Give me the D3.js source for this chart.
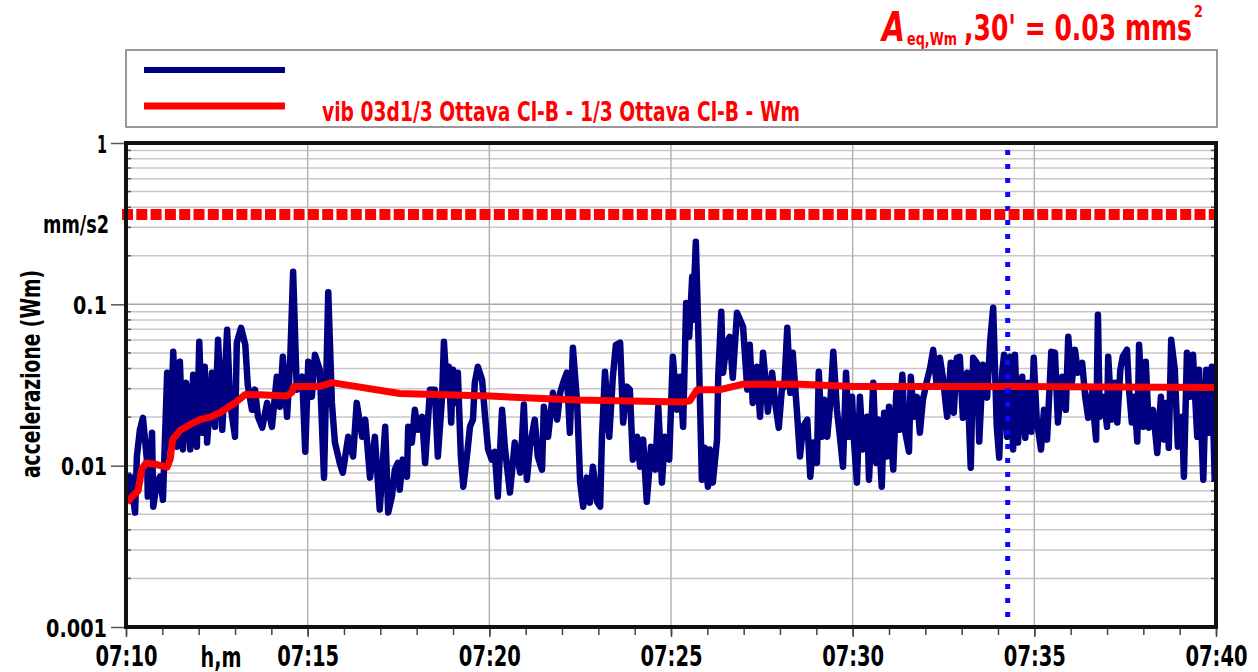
<!DOCTYPE html>
<html><head><meta charset="utf-8">
<script src="https://cdn.jsdelivr.net/npm/d3@7"></script>
<style>
html,body{margin:0;padding:0;background:#fff;}
svg{display:block;font-family:"DejaVu Sans",sans-serif;}
</style></head>
<body>
<svg id="chart" width="1258" height="672"></svg>
<script>
// ---- DATA ----
const xTickSeconds = [0, 300, 600, 900, 1200, 1500, 1800];
const xTickLabels = ["07:10", "07:15", "07:20", "07:25", "07:30", "07:35", "07:40"];
const yTickValues = [1, 0.1, 0.01, 0.001];
const yTickLabels = ["1", "0.1", "0.01", "0.001"];
const thresholdValue = 0.36;          // red dashed limit, mm/s2
const cursorSecond = 1456;            // blue dotted cursor (07:34:16)
const seriesLabel = "vib 03d1/3 Ottava Cl-B - 1/3 Ottava Cl-B - Wm";
const yAxisTitle = "accelerazione (Wm)";
const yUnit = "mm/s2";
const xUnit = "h,m";

// instantaneous weighted acceleration [seconds after 07:10, mm/s2]
const traceWm = [
[2,.00615],[7,.00855],[15,.00512],[18,.0114],[23,.0167],[28,.0198],[35,.0104],[36,.00643],[43,.0160],[45,.00557],[51,.00785],[56,.00855],[61,.00615],[68,.0377],[73,.0131],[78,.0508],[84,.0131],[89,.0440],[94,.0126],[99,.0327],[102,.0283],[106,.0126],[111,.0366],[117,.0131],[121,.0586],[126,.0160],[130,.0410],[134,.0139],[142,.0377],[147,.0174],[152,.0603],[159,.0167],[167,.0695],[172,.0245],[180,.0151],[183,.0578],[190,.0715],[197,.0561],[201,.0318],[208,.0222],[213,.0296],[218,.0201],[225,.0172],[233,.0245],[241,.0174],[249,.0356],[254,.0232],[259,.0473],[266,.0201],[271,.0434],[276,.159],[282,.0296],[291,.0356],[296,.0122],[301,.0440],[307,.0267],[312,.0487],[320,.0393],[327,.00843],[334,.119],[340,.0245],[345,.0139],[353,.0104],[358,.00905],[367,.0151],[375,.0114],[381,.0245],[390,.0151],[395,.0193],[403,.00843],[411,.0151],[419,.00534],[428,.0174],[433,.00512],[439,.00643],[444,.00945],[449,.0104],
[452,.00710],[457,.0109],[464,.00855],[466,.0174],[472,.0139],[477,.0222],[482,.0167],[489,.0201],[494,.0104],[502,.0296],[510,.0296],[515,.0114],[522,.0267],[525,.0586],[530,.0283],[533,.0410],[537,.0185],[540,.0393],[545,.0245],[548,.0377],[553,.0114],[557,.00741],[563,.0114],[568,.0174],[573,.0193],[576,.0327],[581,.0410],[588,.0341],[593,.0201],[598,.0126],[604,.0109],[609,.0122],[614,.00643],[621,.0222],[626,.0126],[634,.00681],[642,.0139],[651,.00905],[657,.0239],[662,.00819],[667,.0131],[675,.0193],[680,.0114],[687,.00945],[690,.0232],[697,.0151],[705,.0283],[712,.0193],[717,.0283],[722,.0327],[728,.0377],[733,.0160],[738,.0538],[745,.0245],[750,.00785],[755,.00557],[761,.00843],[766,.00590],[771,.00986],[778,.00598],[783,.00557],[786,.0151],[791,.0382],[798,.0151],[804,.0356],[809,.0561],[816,.0578],[821,.0185],[827,.0309],[832,.0296],[837,.0109],[844,.0151],[849,.00986],[854,.0145],[860,.00598],[867,.0131],[874,.00945],[879,.0232],[885,.00785],[890,.0151],[897,.0109],[903,.0473],[910,.0222],[915,.0356],[920,.0174],[925,.102],[930,.0629],[935,.148],[936,.0802],[941,.244],[945,.0695],[951,.00819],[956,.0129],[961,.00741],[964,.0126],[969,.00785],[976,.0145],[978,.0356],[983,.0899],
[986,.0377],[992,.0578],[997,.0629],[1002,.0351],[1009,.0886],[1014,.0802],[1019,.0726],[1026,.0296],[1030,.0561],[1035,.0245],[1042,.0410],[1047,.0201],[1052,.0501],[1055,.0377],[1060,.0216],[1067,.0377],[1072,.0245],[1078,.0172],[1083,.0296],[1087,.0309],[1092,.0715],[1097,.0283],[1101,.0501],[1108,.0216],[1113,.0114],[1118,.0174],[1125,.0193],[1130,.00855],[1135,.0139],[1141,.0104],[1144,.0382],[1149,.0151],[1153,.0256],[1158,.0151],[1163,.0245],[1168,.0508],[1174,.0222],[1179,.0151],[1184,.00986],[1189,.0377],[1194,.0151],[1199,.0267],[1202,.0145],[1207,.00785],[1212,.0267],[1217,.0126],[1224,.0201],[1227,.00819],[1234,.0327],[1239,.0104],[1242,.0193],[1248,.00741],[1252,.0213],[1257,.0114],[1260,.0232],[1267,.00945],[1272,.0283],[1277,.0167],[1282,.0366],[1286,.0167],[1293,.0122],[1296,.0356],[1301,.0201],[1306,.0267],[1311,.0160],[1316,.0256],[1323,.0341],[1328,.0404],[1333,.0523],[1339,.0309],[1344,.0466],[1349,.0351],[1356,.0201],[1362,.0434],[1367,.0213],[1372,.0466],
[1377,.0473],[1382,.0198],[1389,.0377],[1395,.00972],[1399,.0466],[1405,.0434],[1409,.0141],[1415,.0422],[1422,.0264],[1427,.0586],[1432,.0951],[1438,.0174],[1442,.0112],[1447,.0382],[1450,.0487],[1455,.0151],[1460,.0473],[1465,.0126],[1468,.0487],[1473,.0139],[1480,.0356],[1485,.0149],[1490,.0327],[1495,.0162],[1499,.0466],[1504,.0193],[1511,.0126],[1516,.0222],[1521,.0145],[1528,.0508],[1534,.0501],[1539,.0185],[1546,.0356],[1552,.0222],[1556,.0629],[1562,.0327],[1567,.0523],[1572,.0377],[1579,.0434],[1584,.0267],[1589,.0198],[1595,.0283],[1602,.0145],[1605,.0861],[1608,.0201],[1615,.0267],[1620,.0174],[1622,.0473],[1628,.0193],[1633,.0327],[1637,.0185],[1642,.0393],[1646,.0473],[1653,.0523],[1656,.0309],[1661,.0185],[1665,.0267],[1670,.0141],[1673,.0561],[1680,.0174],[1684,.0440],[1689,.0172],[1696,.0222],[1703,.0120],[1709,.0267],[1714,.0145],[1719,.0245],[1722,.0129],[1726,.0603],[1732,.0393],[1737,.0131],[1744,.0201],[1747,.00855],[1752,.0501],[1757,.0267],[1762,.0487],[1769,.0151],[1772,.0393],[1779,.00819],[1784,.0393],[1788,.0160],[1793,.0410],[1798,.00796]
];

// running equivalent level Aeq [seconds after 07:10, mm/s2]
const runningAeq = [
[2,.0059],[11,.0065],[20,.0070],[26,.0095],[33,.0104],[48,.0102],[68,.0098],[73,.0110],[77,.0145],[89,.0165],[106,.0180],[122,.0193],[139,.0200],[155,.0213],[169,.0230],[180,.0245],[197,.0276],[221,.0275],[266,.0270],[274,.0285],[277,.0310],[320,.0310],[340,.0327],[452,.0280],[601,.0270],[745,.0255],[920,.0248],[931,.0252],[943,.0295],[981,.0296],[1019,.0320],[1113,.0320],[1201,.0310],[1278,.0310],[1444,.0310],[1800,.0305]
];

// ---- CHART ----
const svg = d3.select("#chart");
const L = 126, R = 1216, T = 143, B = 627;
const x = d3.scaleLinear().domain([0, 1800]).range([L, R]);
const y = d3.scaleLog().domain([0.001, 1]).range([B, T]);

// title
const title = svg.append("g").attr("fill", "#ff0000").attr("font-weight", "bold");
title.append("text").attr("x", 882).attr("y", 41).attr("font-size", 40).attr("font-style", "italic")
  .attr("textLength", 23).attr("lengthAdjust", "spacingAndGlyphs").text("A");
title.append("text").attr("x", 907).attr("y", 45).attr("font-size", 17)
  .attr("textLength", 50).attr("lengthAdjust", "spacingAndGlyphs").text("eq,Wm");
title.append("text").attr("x", 964).attr("y", 40).attr("font-size", 36)
  .attr("textLength", 228).attr("lengthAdjust", "spacingAndGlyphs").text(",30' = 0.03 mms");
title.append("text").attr("x", 1194).attr("y", 17).attr("font-size", 15)
  .attr("textLength", 9).attr("lengthAdjust", "spacingAndGlyphs").text("2");

// legend box
svg.append("rect").attr("x", 126).attr("y", 50).attr("width", 1091).attr("height", 77)
  .attr("fill", "none").attr("stroke", "#777").attr("stroke-width", 1.5);
svg.append("line").attr("x1", 144).attr("x2", 285).attr("y1", 70).attr("y2", 70)
  .attr("stroke", "#000080").attr("stroke-width", 6);
svg.append("line").attr("x1", 144).attr("x2", 285).attr("y1", 106).attr("y2", 106)
  .attr("stroke", "#ff0000").attr("stroke-width", 7);
svg.append("text").attr("x", 322).attr("y", 121).attr("font-size", 26).attr("font-weight", "bold")
  .attr("fill", "#ff0000").attr("textLength", 478).attr("lengthAdjust", "spacingAndGlyphs").text(seriesLabel);

// grid
const grid = svg.append("g");
const minorVals = [];
[0.001, 0.01, 0.1].forEach(d => { for (let k = 2; k <= 9; k++) minorVals.push(d * k); });
grid.selectAll("line.hminor").data(minorVals).join("line")
  .attr("x1", L).attr("x2", R).attr("y1", d => y(d)).attr("y2", d => y(d))
  .attr("stroke", "#c8c8c8").attr("stroke-width", 1.5);
grid.selectAll("line.hmajor").data([0.1, 0.01]).join("line")
  .attr("x1", L).attr("x2", R).attr("y1", d => y(d)).attr("y2", d => y(d))
  .attr("stroke", "#a8a8a8").attr("stroke-width", 1.5);
grid.selectAll("line.v").data(xTickSeconds.slice(1, -1)).join("line")
  .attr("x1", d => x(d)).attr("x2", d => x(d)).attr("y1", T).attr("y2", B)
  .attr("stroke", "#b4b4b4").attr("stroke-width", 1.5);

// inner minor ticks on left/right frame
const tickG = svg.append("g").attr("stroke", "#555").attr("stroke-width", 1.5);
tickG.selectAll("line.l").data(minorVals).join("line")
  .attr("x1", L).attr("x2", L + 5).attr("y1", d => y(d)).attr("y2", d => y(d));
tickG.selectAll("line.r").data(minorVals).join("line")
  .attr("x1", R - 5).attr("x2", R).attr("y1", d => y(d)).attr("y2", d => y(d));

// clip
svg.append("clipPath").attr("id", "plotclip").append("rect")
  .attr("x", L).attr("y", T).attr("width", R - L).attr("height", B - T);
const plot = svg.append("g").attr("clip-path", "url(#plotclip)");

// threshold (extends onto the left frame, as in the original)
svg.append("line").attr("x1", L - 4).attr("x2", R - 2).attr("y1", y(thresholdValue)).attr("y2", y(thresholdValue))
  .attr("stroke", "#ff0000").attr("stroke-width", 11).attr("stroke-dasharray", "11,3.3");

const line = d3.line().x(d => x(d[0])).y(d => y(d[1]));
plot.append("path").datum(traceWm).attr("d", line).attr("fill", "none")
  .attr("stroke", "#000080").attr("stroke-width", 6.5).attr("stroke-linejoin", "round");
plot.append("path").datum(runningAeq).attr("d", line).attr("fill", "none")
  .attr("stroke", "#ff0000").attr("stroke-width", 7).attr("stroke-linejoin", "round");

// cursor
plot.append("line").attr("x1", x(cursorSecond)).attr("x2", x(cursorSecond)).attr("y1", 150).attr("y2", B)
  .attr("stroke", "#0a0aff").attr("stroke-width", 5).attr("stroke-dasharray", "5,9");

// frame
svg.append("rect").attr("x", L).attr("y", T).attr("width", R - L).attr("height", B - T)
  .attr("fill", "none").attr("stroke", "#111").attr("stroke-width", 4);

// y axis
const yAxis = d3.axisLeft(y).tickValues(yTickValues).tickSize(13).tickPadding(4)
  .tickFormat((d, i) => yTickLabels[i]);
const yg = svg.append("g").attr("transform", `translate(${L - 2},0)`).call(yAxis);
yg.select(".domain").remove();
yg.selectAll(".tick line").attr("stroke", "#555").attr("stroke-width", 1.5);
yg.selectAll(".tick text").attr("font-size", 25).attr("font-weight", "bold").attr("fill", "#000")
  .attr("font-family", "DejaVu Sans").attr("dy", "0.36em")
  .attr("textLength", (d, i) => [10, 34, 46, 61][i]).attr("lengthAdjust", "spacingAndGlyphs");
svg.append("text").attr("x", 109).attr("y", 233).attr("text-anchor", "end").attr("font-size", 24)
  .attr("font-weight", "bold").attr("textLength", 66).attr("lengthAdjust", "spacingAndGlyphs").text(yUnit);
svg.append("text").attr("transform", "translate(40,374) rotate(-90)").attr("text-anchor", "middle")
  .attr("font-size", 27).attr("font-weight", "bold")
  .attr("textLength", 208).attr("lengthAdjust", "spacingAndGlyphs").text(yAxisTitle);

// x axis
const minuteTicks = d3.range(0, 1801, 60);
const xMinor = d3.axisBottom(x).tickValues(minuteTicks).tickSize(6).tickFormat("");
const xg0 = svg.append("g").attr("transform", `translate(0,${B + 2})`).call(xMinor);
xg0.select(".domain").remove();
xg0.selectAll(".tick line").attr("stroke", "#444").attr("stroke-width", 1.5);
const xAxis = d3.axisBottom(x).tickValues(xTickSeconds).tickSize(8).tickPadding(8)
  .tickFormat((d, i) => xTickLabels[i]);
const xg = svg.append("g").attr("transform", `translate(0,${B + 2})`).call(xAxis);
xg.select(".domain").remove();
xg.selectAll(".tick line").attr("stroke", "#444").attr("stroke-width", 1.5);
xg.selectAll(".tick text").attr("font-size", 29).attr("font-weight", "bold").attr("fill", "#000")
  .attr("font-family", "DejaVu Sans").attr("textLength", 62).attr("lengthAdjust", "spacingAndGlyphs");
svg.append("text").attr("x", 221).attr("y", 667).attr("text-anchor", "middle").attr("font-size", 29)
  .attr("font-weight", "bold").attr("textLength", 41).attr("lengthAdjust", "spacingAndGlyphs").text(xUnit);
</script>
</body></html>
